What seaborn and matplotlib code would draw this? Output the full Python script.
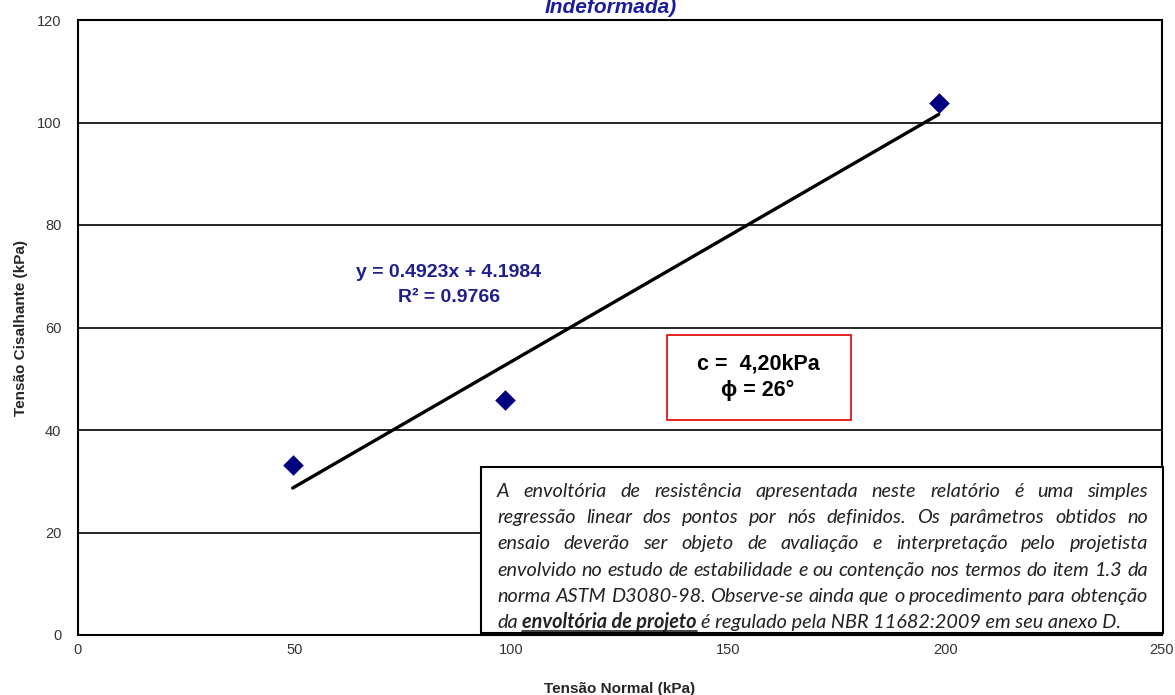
import numpy as np
import matplotlib.pyplot as plt
import pandas as pd
import seaborn as sns
from matplotlib.patches import Rectangle

# dados
tensao_normal = [49.5, 98.5, 198.5]
tensao_cisalhante = [33.2, 45.9, 103.8]
xticks = [0, 50, 100, 150, 200, 250]
yticks = [0, 20, 40, 60, 80, 100, 120]
titulo = 'Indeformada)'
equacao = ['y = 0.4923x + 4.1984', 'R² = 0.9766']
parametros = ['c =  4,20kPa', 'ϕ = 26°']
nota = [
    'A envoltória de resistência apresentada neste relatório é uma simples',
    'regressão linear dos pontos por nós definidos. Os parâmetros obtidos no',
    'ensaio deverão ser objeto de avaliação e interpretação pelo projetista',
    'envolvido no estudo de estabilidade e ou contenção nos termos do item 1.3 da',
    'norma ASTM D3080-98. Observe-se ainda que o procedimento para obtenção',
]
nota_final = ['da', 'envoltória de projeto', 'é regulado pela NBR 11682:2009 em seu anexo D.']

sns.set_style('white')
plt.rcParams['font.family'] = ['Liberation Sans', 'DejaVu Sans']

W, H = 1175, 695
fig = plt.figure(figsize=(W / 100, H / 100), dpi=100)
ax = fig.add_axes([78 / W, 60 / H, 1084 / W, 615 / H])

df = pd.DataFrame({'x': tensao_normal, 'y': tensao_cisalhante})
sns.regplot(data=df, x='x', y='y', ci=None, ax=ax, marker='D',
            scatter_kws=dict(s=110, color='#000080', alpha=1, zorder=4, linewidths=0),
            line_kws=dict(color='black', lw=2.4, zorder=3))

ax.set_xlim(0, 250)
ax.set_ylim(0, 120)
ax.set_xticks(xticks)
ax.set_yticks(yticks)
for v in yticks[1:-1]:
    ax.axhline(v, color='black', lw=1.2, zorder=1)
for s in ax.spines.values():
    s.set_color('black')
    s.set_linewidth(1.5)
ax.tick_params(direction='out', length=4, width=1, color='black',
               labelsize=10.5, labelcolor='#333333', pad=2)
ax.tick_params(axis='y', pad=8)
ax.set_xlabel('Tensão Normal (kPa)', fontsize=11, fontweight='bold', labelpad=18)
ax.set_ylabel('Tensão Cisalhante (kPa)', fontsize=11, fontweight='bold', labelpad=6)


def fx(px):
    return px / W


def fy(py):
    return 1 - py / H


fig.text(fx(611), fy(13), titulo, ha='center', va='baseline', fontsize=15,
         fontweight='bold', fontstyle='italic', color='#1c1ca0')

fig.text(fx(449), fy(272), equacao[0], ha='center', va='center', fontsize=14,
         fontweight='bold', color='#1f1f8c')
fig.text(fx(449), fy(298), equacao[1], ha='center', va='center', fontsize=14,
         fontweight='bold', color='#1f1f8c')

fig.add_artist(Rectangle((fx(667), fy(420)), (851 - 667) / W, (420 - 335) / H,
                         transform=fig.transFigure, facecolor='white',
                         edgecolor='#e00000', lw=1.2, zorder=2))
fig.text(fx(758), fy(364), parametros[0], ha='center', va='center', fontsize=15.5,
         fontweight='bold', color='black', zorder=3)
fig.text(fx(758), fy(390), parametros[1], ha='center', va='center', fontsize=15.5,
         fontweight='bold', color='black', zorder=3)

# caixa de texto com a nota (justificada)
fig.add_artist(Rectangle((fx(481), fy(633)), (1163 - 481) / W, (633 - 467) / H,
                         transform=fig.transFigure, facecolor='white',
                         edgecolor='black', lw=1.5, zorder=2))

fam = ['Lato', 'DejaVu Sans']
fig.canvas.draw()
r = fig.canvas.get_renderer()


def largura(s, fs, peso='normal'):
    t = fig.text(0, 0, s, fontsize=fs, fontstyle='italic', family=fam, fontweight=peso)
    w = t.get_window_extent(r).width
    t.remove()
    return w


fs0 = 10
maxw = max(largura(l, fs0) for l in nota)
fs = fs0 * 651 / maxw
x0, x1 = 497, 1148
base = 497
passo = 26.2
for i, linha in enumerate(nota):
    palavras = linha.split()
    ws = [largura(p, fs) for p in palavras]
    esp = (x1 - x0 - sum(ws)) / (len(palavras) - 1)
    x = x0
    for p, w in zip(palavras, ws):
        fig.text(fx(x), fy(base + i * passo), p, fontsize=fs, fontstyle='italic',
                 family=fam, va='baseline', ha='left', color='#222222', zorder=3)
        x += w + esp

espaco = largura('a b', fs) - largura('ab', fs)
yb = base + 5 * passo
x = x0
for j, seg in enumerate(nota_final):
    peso = 'bold' if j == 1 else 'normal'
    w = largura(seg, fs, peso)
    fig.text(fx(x), fy(yb), seg, fontsize=fs, fontstyle='italic', fontweight=peso,
             family=fam, va='baseline', ha='left', color='#222222', zorder=3)
    if j == 1:
        fig.add_artist(plt.Line2D([fx(x), fx(x + w)], [fy(yb + 2.5), fy(yb + 2.5)],
                                  transform=fig.transFigure, color='#222222', lw=1.2, zorder=3))
    x += w + espaco

fig.savefig('out.png', dpi=100)
